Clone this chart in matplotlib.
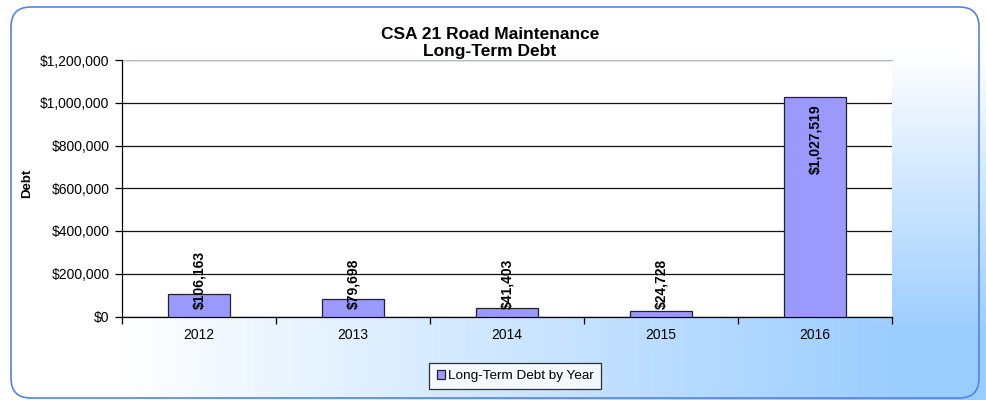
import numpy as np
import matplotlib
matplotlib.use("Agg")
import matplotlib.pyplot as plt
from matplotlib.patches import FancyBboxPatch
import matplotlib.ticker as ticker

plt.rcParams['font.family'] = ['Liberation Sans', 'DejaVu Sans']

years = ["2012", "2013", "2014", "2015", "2016"]
debt = [106163, 79698, 41403, 24728, 1027519]
series_name = "Long-Term Debt by Year"

W, H = 986, 400
fig = plt.figure(figsize=(W / 100, H / 100), dpi=100)

# background gradient from the bottom-right corner (white -> light blue)
bg = fig.add_axes([0, 0, 1, 1], zorder=-10)
px, py = np.meshgrid(np.arange(W), np.arange(H))
tx = np.clip((px - 120) / 800, 0, 1)
ty = np.clip((py - 50) / 290, 0, 1)
t = np.minimum(tx, ty)
c0 = np.array([1.0, 1.0, 1.0])
c1 = np.array([0x99, 0xCC, 0xFF]) / 255
img = c0[None, None, :] * (1 - t[..., None]) + c1[None, None, :] * t[..., None]
bg.imshow(img, extent=[0, 1, 0, 1], aspect='auto', origin='upper')
bg.set_xlim(0, 1)
bg.set_ylim(0, 1)
bg.axis('off')

# rounded border
border = FancyBboxPatch((11 / W, 2 / H), 968 / W, 391 / H,
                        boxstyle="round,pad=0,rounding_size=0.02",
                        transform=fig.transFigure, fill=False,
                        edgecolor='#5580EE', linewidth=1.2,
                        mutation_aspect=W / H)
fig.patches.append(border)

ax = fig.add_axes([122 / W, 1 - 316.5 / H, 770 / W, 256.5 / H])
ax.set_facecolor('white')

x = np.arange(len(years))
ax.bar(x, debt, width=0.4, color='#9999FF', edgecolor='#222222', linewidth=0.9, zorder=3,
       label=series_name)

ax.set_xlim(-0.5, len(years) - 0.5)
ax.set_ylim(0, 1200000)
ax.yaxis.set_major_locator(ticker.MultipleLocator(200000))
ax.yaxis.set_major_formatter(ticker.FuncFormatter(lambda v, p: f"${v:,.0f}"))
ax.set_xticks(x)
ax.set_xticklabels(years)
ax.set_xticks(np.arange(-0.5, len(years)), minor=True)
ax.tick_params(axis='x', which='major', length=0, pad=8, labelsize=10)
ax.tick_params(axis='x', which='minor', length=5, width=0.9, direction='out')
ax.tick_params(axis='y', length=5, width=0.9, direction='out', pad=4, labelsize=10)

ax.grid(axis='y', color='#111111', linewidth=0.9, zorder=0)
ax.set_axisbelow(True)
ax.spines['right'].set_visible(False)
ax.spines['top'].set_color('#bbbbbb')
ax.spines['top'].set_zorder(1)
ax.spines['left'].set_linewidth(0.9)
ax.spines['bottom'].set_linewidth(0.9)

# value labels (rotated)
for xi, v in zip(x, debt):
    if v > 400000:
        ax.text(xi, v - 35000, f"${v:,.0f}", rotation=90, ha='center', va='top',
                fontsize=10, fontweight='bold', zorder=5)
    else:
        ax.text(xi, 37000, f"${v:,.0f}", rotation=90, ha='center', va='bottom',
                fontsize=10, fontweight='bold', zorder=5)

fig.text(490 / W, 1 - 43 / H, "CSA 21 Road Maintenance\nLong-Term Debt", ha='center',
         va='center', fontsize=12.5, fontweight='bold', linespacing=1.2)
fig.text(27 / W, 1 - 183 / H, "Debt", rotation=90, ha='center', va='center',
         fontsize=9.5, fontweight='bold')

leg = fig.legend(loc='center', bbox_to_anchor=(515 / W, 1 - 376 / H), fontsize=9.7,
                 frameon=True, fancybox=False, edgecolor='black', handlelength=0.6,
                 handleheight=0.6, handletextpad=0.2, borderpad=0.55, borderaxespad=0)
leg.get_frame().set_linewidth(0.9)
leg.get_frame().set_facecolor('white')

fig.savefig("out.png", dpi=100)
